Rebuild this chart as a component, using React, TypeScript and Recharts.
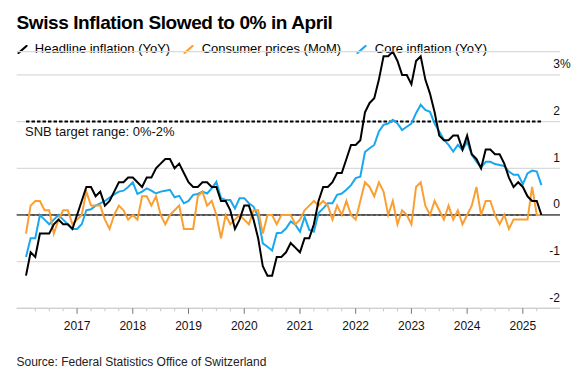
import React from 'react';
import { LineChart, Line, XAxis, YAxis, CartesianGrid, ReferenceLine } from 'recharts';

// Monthly data, Jan 2016 – Apr 2025
const headline: number[] = [
  -1.3, -0.8, -0.9, -0.4, -0.4, -0.4, -0.2, -0.1, -0.2, -0.2, -0.3, 0.0,
  0.3, 0.6, 0.6, 0.4, 0.5, 0.2, 0.3, 0.5, 0.7, 0.7, 0.8, 0.8,
  0.7, 0.6, 0.8, 0.8, 1.0, 1.1, 1.2, 1.2, 1.0, 1.1, 0.9, 0.7,
  0.6, 0.6, 0.7, 0.7, 0.6, 0.6, 0.3, 0.3, 0.1, -0.3, -0.1, 0.2,
  0.2, -0.1, -0.5, -1.1, -1.3, -1.3, -0.9, -0.9, -0.8, -0.6, -0.7, -0.8,
  -0.5, -0.5, -0.2, 0.3, 0.6, 0.6, 0.7, 0.9, 0.9, 1.2, 1.5, 1.5,
  1.6, 2.2, 2.4, 2.5, 2.9, 3.4, 3.4, 3.5, 3.3, 3.0, 3.0, 2.8,
  3.3, 3.4, 2.9, 2.6, 2.2, 1.7, 1.6, 1.6, 1.7, 1.7, 1.4, 1.7,
  1.3, 1.2, 1.0, 1.4, 1.4, 1.3, 1.3, 1.1, 0.8, 0.6, 0.7, 0.6,
  0.4, 0.3, 0.3, 0.0,
];

const consumerMoM: number[] = [
  -0.4, 0.2, 0.3, 0.3, 0.1, 0.1, -0.4, -0.1, 0.1, 0.1, -0.2, -0.1,
  0.0, 0.5, 0.2, 0.2, 0.2, -0.1, -0.3, 0.0, 0.2, 0.1, -0.1, 0.0,
  -0.1, 0.4, 0.4, 0.2, 0.4, 0.0, -0.2, 0.0, 0.1, 0.2, -0.3, -0.3,
  -0.3, 0.4, 0.5, 0.2, 0.3, 0.0, -0.5, 0.0, -0.2, -0.1, 0.0, -0.1,
  -0.2, 0.1, 0.1, -0.4, 0.0, 0.0, -0.2, 0.0, 0.0, 0.0, -0.2, -0.1,
  0.1, 0.2, 0.3, 0.2, 0.3, 0.2, -0.1, 0.2, 0.0, 0.3, 0.0, -0.1,
  0.3, 0.7, 0.6, 0.4, 0.7, 0.5, 0.0, 0.3, -0.2, 0.1, 0.0, -0.2,
  0.6, 0.7, 0.2, 0.0, 0.3, 0.1, -0.1, 0.2, -0.1, 0.1, -0.2, 0.0,
  0.2, 0.6, 0.0, 0.3, 0.3, 0.0, -0.2, 0.0, -0.3, -0.1, -0.1, -0.1,
  -0.1, 0.6, 0.0, 0.0,
];

const coreYoY: number[] = [
  -0.9, -0.5, -0.5, 0.0, -0.1, -0.2, -0.1, 0.0, -0.1, -0.2, -0.3, -0.3,
  -0.2, 0.1, 0.12, 0.2, 0.25, 0.3, 0.37, 0.44, 0.5, 0.52, 0.6, 0.7,
  0.45, 0.5, 0.57, 0.52, 0.46, 0.5, 0.52, 0.54, 0.38, 0.41, 0.25, 0.3,
  0.43, 0.45, 0.5, 0.46, 0.57, 0.71, 0.36, 0.32, 0.32, 0.14, 0.36, 0.36,
  0.25, 0.18, -0.04, -0.61, -0.68, -0.76, -0.39, -0.38, -0.29, -0.14, -0.21, -0.36,
  -0.04, -0.32, -0.36, 0.04, 0.14, 0.25, 0.25, 0.43, 0.46, 0.54, 0.64, 0.79,
  0.82, 1.35, 1.43, 1.5, 1.79, 1.93, 1.96, 2.04, 1.96, 1.82, 1.89, 1.96,
  2.18, 2.36, 2.25, 2.21, 1.96, 1.79, 1.61, 1.5, 1.36, 1.5, 1.39, 1.57,
  1.29, 1.14, 1.02, 1.14, 1.14, 1.09, 1.07, 1.05, 0.93, 0.86, 0.86, 0.66,
  0.89, 0.95, 0.93, 0.64,
];

const yTicks = [-2, -1, 0, 1, 2, 3];
const yearLabels = ['2017', '2018', '2019', '2020', '2021', '2022', '2023', '2024', '2025'];
const snbRange = [0, 2];
const legendItems = [
  { key: 'headline', label: 'Headline inflation (YoY)', color: '#000000' },
  { key: 'mom', label: 'Consumer prices (MoM)', color: '#fa9f32' },
  { key: 'core', label: 'Core inflation (YoY)', color: '#1aa7ee' },
];

// t = months since 1 Jan 2016, points placed at month end
const data = headline.map((h, i) => ({ t: i + 1, headline: h, mom: consumerMoM[i], core: coreYoY[i] }));
const firstT = data[0].t;
const lastT = data[data.length - 1].t;
const quarterTicks: number[] = [];
for (let q = 3; q <= 111; q += 3) quarterTicks.push(q);

const FONT = '"Liberation Sans", Arial, Helvetica, sans-serif';

const XTick = (props: any) => {
  const { x, y, payload } = props;
  const v = payload.value as number;
  const major = v % 12 === 0;
  return (
    <g>
      <line x1={x} x2={x} y1={y} y2={y + (major ? 5.5 : 3)} stroke={major ? '#777' : '#c8c8c8'} strokeWidth={1} />
      {major && (
        <text x={x} y={y + 21.5} textAnchor="middle" fontSize={12} fill="#111" fontFamily={FONT}>
          {yearLabels[v / 12 - 1]}
        </text>
      )}
    </g>
  );
};

const YTick = (props: any) => {
  const { x, y, payload } = props;
  const v = payload.value as number;
  return (
    <g>
      <text x={x} y={y - 6.5} textAnchor="end" fontSize={12} fill="#111" fontFamily={FONT}>
        {String(v)}
      </text>
      {v === 3 && (
        <text x={x} y={y - 6.5} textAnchor="start" fontSize={12} fill="#111" fontFamily={FONT}>%</text>
      )}
    </g>
  );
};

const SnbLabel = (props: any) => {
  const vb = props.viewBox || {};
  return (
    <text x={vb.x - 1} y={vb.y + 14.8} fontSize={13} fill="#111" fontFamily={FONT}>
      SNB target range: 0%-2%
    </text>
  );
};

const LegendIcon = ({ color }: { color: string }) => (
  <svg width={11} height={9} style={{ display: 'block' }}>
    <line x1={1.5} y1={8} x2={9.5} y2={1} stroke={color} strokeWidth={2.2} strokeLinecap="round" />
  </svg>
);

const legendPos = [
  { icon: 16.5, text: 34.8 },
  { icon: 183.4, text: 201.7 },
  { icon: 356.4, text: 374.8 },
];

export default function App() {
  return (
    <div style={{ position: 'absolute', left: 0, top: 0, width: 572, height: 373, background: '#fff', fontFamily: FONT, overflow: 'hidden' }}>
      <div style={{ position: 'absolute', left: 16.5, top: 13.2, fontSize: 19, lineHeight: '19px', fontWeight: 700, letterSpacing: -0.4, color: '#000', whiteSpace: 'nowrap' }}>
        Swiss Inflation Slowed to 0% in April
      </div>
      {legendItems.map((it, k) => (
        <React.Fragment key={it.key}>
          <div style={{ position: 'absolute', left: legendPos[k].icon, top: 45.2 }}>
            <LegendIcon color={it.color} />
          </div>
          <div style={{ position: 'absolute', left: legendPos[k].text, top: 42.2, fontSize: 13, lineHeight: '13px', color: '#000', whiteSpace: 'nowrap' }}>
            {it.label}
          </div>
        </React.Fragment>
      ))}
      <div style={{ position: 'absolute', left: 0, top: 0 }}>
        <LineChart width={572} height={373} data={data} margin={{ top: 51.6, right: 11, bottom: 34.7, left: 16.7 }}>
          <CartesianGrid vertical={false} stroke="#dadada" strokeWidth={1.2} />
          <XAxis
            type="number"
            dataKey="t"
            domain={[-1, 116]}
            ticks={quarterTicks}
            interval={0}
            tick={<XTick />}
            tickLine={false}
            tickSize={0}
            tickMargin={0}
            axisLine={{ stroke: '#cfcfcf', strokeWidth: 1.3 }}
            height={30}
            allowDataOverflow
          />
          <YAxis
            orientation="right"
            width={1}
            domain={[-2, 3.5]}
            ticks={yTicks}
            interval={0}
            tick={<YTick />}
            tickLine={false}
            tickSize={0}
            tickMargin={0}
            axisLine={false}
            allowDataOverflow
          />
          <ReferenceLine y={0} stroke="#000" strokeWidth={1} />
          <ReferenceLine
            segment={[{ x: firstT, y: snbRange[0] }, { x: lastT, y: snbRange[0] }]}
            stroke="#555"
            strokeWidth={2}
            strokeDasharray="3.5 2"
          />
          <ReferenceLine
            segment={[{ x: firstT, y: snbRange[1] }, { x: lastT, y: snbRange[1] }]}
            stroke="#000"
            strokeWidth={2}
            strokeDasharray="3.5 2"
            label={<SnbLabel />}
          />
          <Line type="linear" dataKey="core" stroke="#1aa7ee" strokeWidth={2} dot={false} isAnimationActive={false} />
          <Line type="linear" dataKey="mom" stroke="#fa9f32" strokeWidth={2} dot={false} isAnimationActive={false} />
          <Line type="linear" dataKey="headline" stroke="#000000" strokeWidth={2} dot={false} isAnimationActive={false} />
        </LineChart>
      </div>
      <div style={{ position: 'absolute', left: 16.5, top: 356.4, fontSize: 12, lineHeight: '12px', color: '#222', whiteSpace: 'nowrap' }}>
        Source: Federal Statistics Office of Switzerland
      </div>
    </div>
  );
}
